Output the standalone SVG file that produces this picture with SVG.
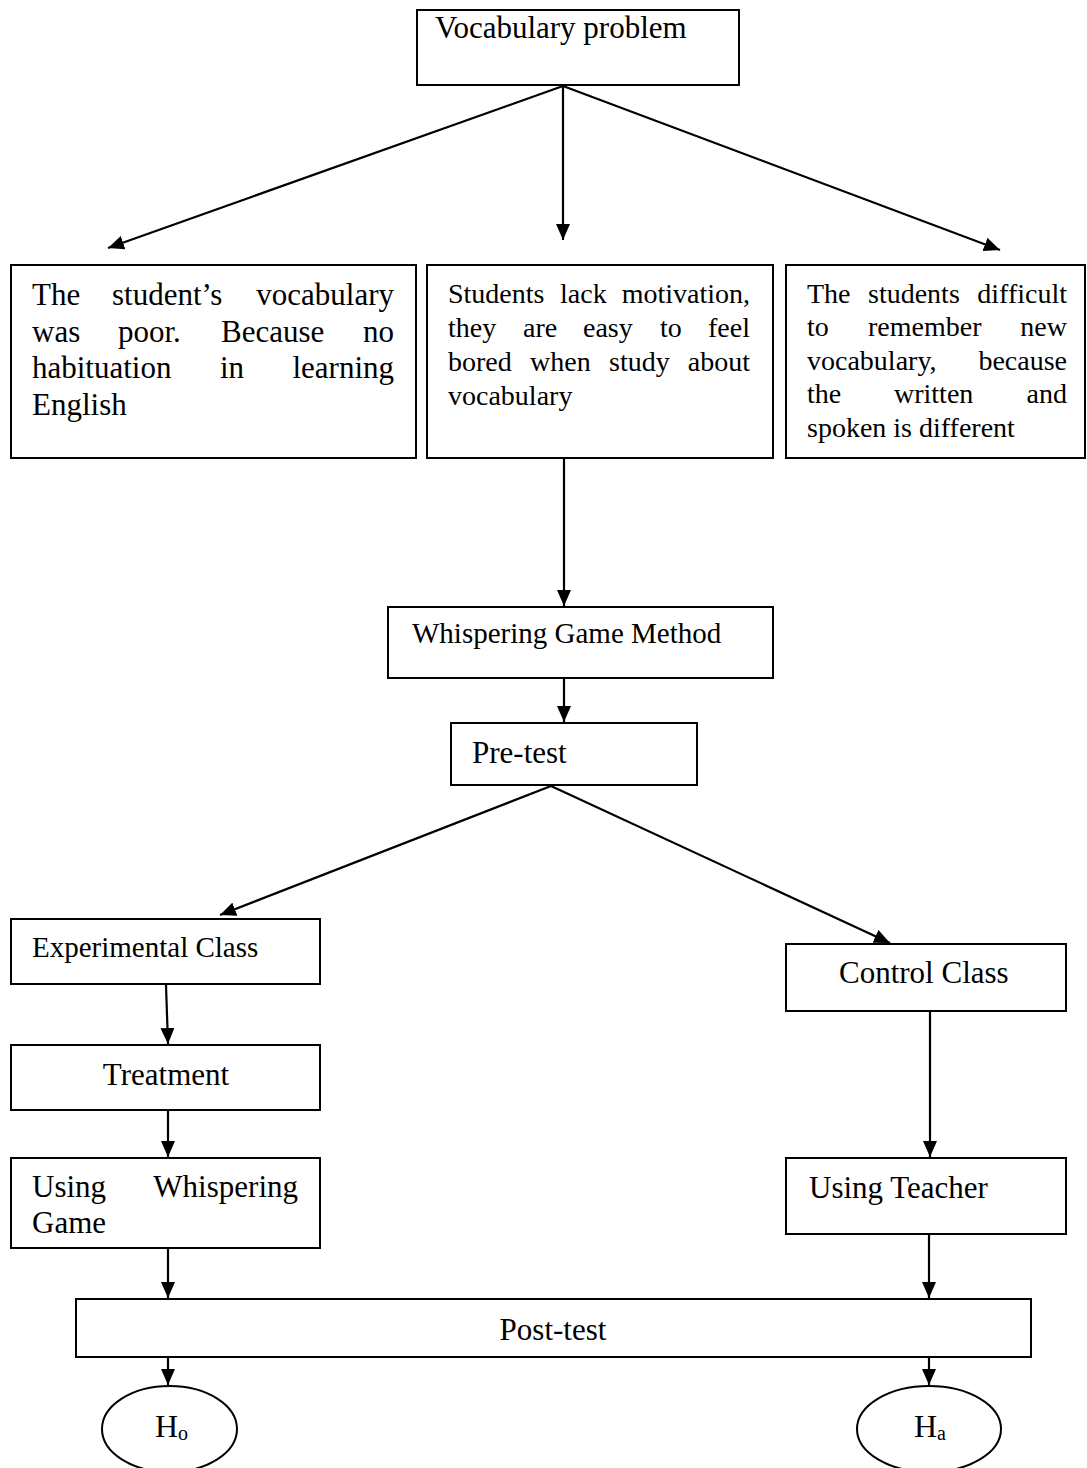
<svg xmlns="http://www.w3.org/2000/svg" width="1087" height="1468" viewBox="0 0 1087 1468">
<style>
.box{fill:#fff;stroke:#000;stroke-width:2}
.t{font-family:"Liberation Serif","Times New Roman",serif;fill:#000}
.f31{font-size:31px}
.f29{font-size:29px}
.f28{font-size:28px}
.e{text-anchor:end}
.m{text-anchor:middle}
.c{stroke:#000;stroke-width:2.2;fill:none;marker-end:url(#ah)}
</style>
<defs>
<marker id="ah" viewBox="0 0 16 14" refX="16" refY="7" markerWidth="16" markerHeight="14" markerUnits="userSpaceOnUse" orient="auto">
<path d="M0,0 L16,7 L0,14 z" fill="#000"/>
</marker>
</defs>
<rect width="1087" height="1468" fill="#fff"/>
<g id="connectors">
<line class="c" x1="563" y1="86" x2="563" y2="240"/>
<line class="c" x1="563" y1="86" x2="108" y2="248"/>
<line class="c" x1="563" y1="86" x2="1000" y2="250"/>
<line class="c" x1="564" y1="459" x2="564" y2="606"/>
<line class="c" x1="564" y1="679" x2="564" y2="722"/>
<line class="c" x1="551" y1="786" x2="220" y2="915"/>
<line class="c" x1="551" y1="786" x2="890" y2="943"/>
<line class="c" x1="166" y1="985" x2="168" y2="1044"/>
<line class="c" x1="168" y1="1111" x2="168" y2="1157"/>
<line class="c" x1="930" y1="1012" x2="930" y2="1157"/>
<line class="c" x1="168" y1="1249" x2="168" y2="1298"/>
<line class="c" x1="929" y1="1235" x2="929" y2="1298"/>
<line class="c" x1="168" y1="1358" x2="168" y2="1385"/>
<line class="c" x1="929" y1="1358" x2="929" y2="1385"/>
</g>
<g id="vocab-problem">
<rect class="box" x="417" y="10" width="322" height="75"/>
<text class="t f31" x="435" y="38">Vocabulary problem</text>
</g>
<g id="poor-vocab">
<rect class="box" x="11" y="265" width="405" height="193"/>
<text class="t f31" y="305"><tspan x="32">The</tspan><tspan x="112">student’s</tspan><tspan x="394" class="e">vocabulary</tspan></text>
<text class="t f31" y="342"><tspan x="32">was</tspan><tspan x="118">poor.</tspan><tspan x="221">Because</tspan><tspan x="394" class="e">no</tspan></text>
<text class="t f31" y="378"><tspan x="32">habituation</tspan><tspan x="220">in</tspan><tspan x="394" class="e">learning</tspan></text>
<text class="t f31" x="32" y="415">English</text>
</g>
<g id="lack-motivation">
<rect class="box" x="427" y="265" width="346" height="193"/>
<text class="t f28" y="303"><tspan x="448">Students</tspan><tspan x="560">lack</tspan><tspan x="750" class="e">motivation,</tspan></text>
<text class="t f28" y="337"><tspan x="448">they</tspan><tspan x="523">are</tspan><tspan x="583">easy</tspan><tspan x="660">to</tspan><tspan x="750" class="e">feel</tspan></text>
<text class="t f28" y="371"><tspan x="448">bored</tspan><tspan x="530">when</tspan><tspan x="609">study</tspan><tspan x="750" class="e">about</tspan></text>
<text class="t f28" x="448" y="405">vocabulary</text>
</g>
<g id="difficult-remember">
<rect class="box" x="786" y="265" width="299" height="193"/>
<text class="t f28" y="303"><tspan x="807">The</tspan><tspan x="868">students</tspan><tspan x="1067" class="e">difficult</tspan></text>
<text class="t f28" y="336"><tspan x="807">to</tspan><tspan x="868">remember</tspan><tspan x="1067" class="e">new</tspan></text>
<text class="t f28" y="370"><tspan x="807">vocabulary,</tspan><tspan x="1067" class="e">because</tspan></text>
<text class="t f28" y="403"><tspan x="807">the</tspan><tspan x="894">written</tspan><tspan x="1067" class="e">and</tspan></text>
<text class="t f28" x="807" y="437">spoken is different</text>
</g>
<g id="whispering-method">
<rect class="box" x="388" y="607" width="385" height="71"/>
<text class="t f29" x="412" y="643">Whispering Game Method</text>
</g>
<g id="pre-test">
<rect class="box" x="451" y="723" width="246" height="62"/>
<text class="t f31" x="472" y="763">Pre-test</text>
</g>
<g id="experimental-class">
<rect class="box" x="11" y="919" width="309" height="65"/>
<text class="t f29" x="32" y="957">Experimental Class</text>
</g>
<g id="treatment">
<rect class="box" x="11" y="1045" width="309" height="65"/>
<text class="t f31 m" x="166" y="1085">Treatment</text>
</g>
<g id="using-whispering">
<rect class="box" x="11" y="1158" width="309" height="90"/>
<text class="t f31" y="1197"><tspan x="32">Using</tspan><tspan x="298" class="e">Whispering</tspan></text>
<text class="t f31" x="32" y="1233">Game</text>
</g>
<g id="control-class">
<rect class="box" x="786" y="944" width="280" height="67"/>
<text class="t f31" x="839" y="983">Control Class</text>
</g>
<g id="using-teacher">
<rect class="box" x="786" y="1158" width="280" height="76"/>
<text class="t f31" x="809" y="1198">Using Teacher</text>
</g>
<g id="post-test">
<rect class="box" x="76" y="1299" width="955" height="58"/>
<text class="t f31 m" x="553" y="1340">Post-test</text>
</g>
<g id="h-null">
<ellipse class="box" cx="169.5" cy="1429" rx="67.5" ry="43"/>
<text class="t" x="155" y="1437" font-size="32">H<tspan font-size="20" y="1440">o</tspan></text>
</g>
<g id="h-alt">
<ellipse class="box" cx="929" cy="1429" rx="72" ry="43"/>
<text class="t" x="914" y="1437" font-size="32">H<tspan font-size="20" y="1440">a</tspan></text>
</g>
</svg>
